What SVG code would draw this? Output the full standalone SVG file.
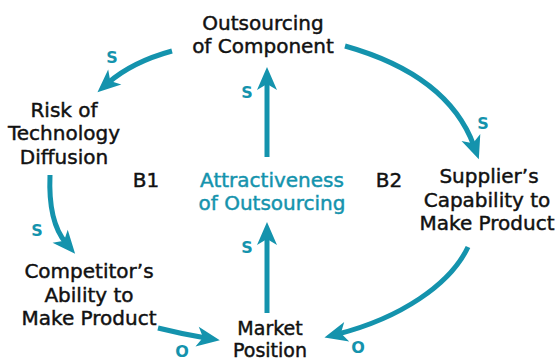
<svg xmlns="http://www.w3.org/2000/svg" width="557" height="362" viewBox="0 0 557 362">
<style>
.t{font-family:"DejaVu Sans","Liberation Sans",sans-serif;font-size:20px;fill:#111;stroke:#111;stroke-width:0.45;text-anchor:middle}
.tl{fill:#1493ad;stroke:#1493ad}
.m{font-size:19px}
.p{font-family:"DejaVu Sans","Liberation Sans",sans-serif;font-size:16px;font-weight:bold;fill:#1493ad;text-anchor:middle}
.c{fill:none;stroke:#1493ad;stroke-width:5;marker-end:url(#ah)}
</style>
<defs>
<marker id="ah" markerUnits="userSpaceOnUse" viewBox="-10 -11 26 22" markerWidth="26" markerHeight="22" refX="0" refY="0" orient="auto">
<path d="M-9,-10 L14,0 L-9,10 L-3,0 Z" fill="#1493ad"/>
</marker>
</defs>
<rect width="557" height="362" fill="#fff"/>
<g id="connectors">
<path class="c" d="M172,51 Q132,62 108,83"/>
<path class="c" d="M345,46 Q448,75 474,146"/>
<path class="c" d="M50,175 Q48,222 66,243"/>
<path class="c" d="M158,328 Q182,334 206,338"/>
<path class="c" d="M468,247 C450,285 400,318 338,334"/>
<path class="c" d="M267,313 L267,236"/>
<path class="c" d="M267,157 L267,81"/>
<text class="p" x="112" y="63">S</text>
<text class="p" x="483" y="129">S</text>
<text class="p" x="37" y="236">S</text>
<text class="p" x="247" y="98">S</text>
<text class="p" x="247" y="253">S</text>
<text class="p" x="182" y="357">O</text>
<text class="p" x="358" y="353">O</text>
</g>
<g id="outsourcing">
<text class="t" x="263" y="30">Outsourcing</text>
<text class="t" x="263" y="53">of Component</text>
</g>
<g id="risk">
<text class="t" x="64" y="117">Risk of</text>
<text class="t" x="64" y="140">Technology</text>
<text class="t" x="64" y="164">Diffusion</text>
</g>
<g id="attractiveness">
<text class="t tl" x="272" y="187">Attractiveness</text>
<text class="t tl" x="272" y="210">of Outsourcing</text>
</g>
<g id="supplier">
<text class="t" x="489" y="183">Supplier’s</text>
<text class="t" x="487" y="207">Capability to</text>
<text class="t" x="487" y="230">Make Product</text>
</g>
<g id="competitor">
<text class="t" x="89" y="278">Competitor’s</text>
<text class="t" x="89" y="302">Ability to</text>
<text class="t" x="89" y="325">Make Product</text>
</g>
<g id="market">
<text class="t m" x="270" y="335">Market</text>
<text class="t m" x="270" y="357">Position</text>
</g>
<g id="loops">
<text class="t" x="146" y="187">B1</text>
<text class="t" x="389" y="187">B2</text>
</g>
</svg>
